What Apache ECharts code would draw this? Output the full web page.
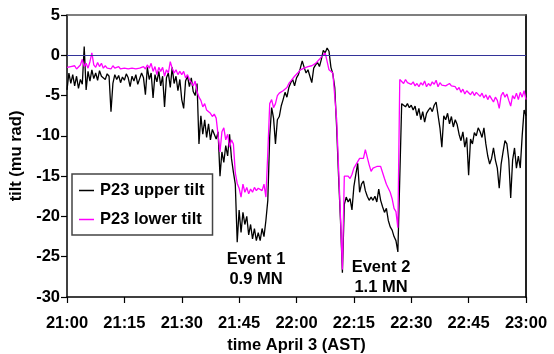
<!DOCTYPE html>
<html>
<head>
<meta charset="utf-8">
<script src="https://cdn.jsdelivr.net/npm/echarts@6/dist/echarts.min.js"></script>
<style>html,body{margin:0;padding:0;background:#fff;}#c{width:554px;height:354px;}</style>
</head>
<body>
<div id="c"></div>
<script>
// sample interval (minutes after 21:00)
const sampleStepMin = 0.5;
const xTickLabels = ['21:00','21:15','21:30','21:45','22:00','22:15','22:30','22:45','23:00'];
const seriesNames = ['P23 upper tilt', 'P23 lower tilt'];

const upperTilt = [
 -4.3,-2.2,-3.5,-2.4,-3.8,-2.6,-4.1,-3.0,-3.6,1.1,
 -4.3,-2.0,-3.2,-1.8,-2.9,-2.2,-3.1,-1.9,-2.6,-2.4,
 -3.0,-2.3,-2.6,-7.0,-3.5,-2.4,-3.0,-2.5,-3.4,-2.7,
 -3.1,-2.3,-2.8,-3.9,-2.6,-3.2,-2.4,-3.6,-2.9,-2.2,
 -2.8,-4.9,-1.5,-3.0,-2.2,-5.3,-2.4,-3.3,-2.0,-3.8,
 -2.6,-6.4,-2.8,-2.2,-4.0,-1.5,-3.5,-2.6,-4.4,-3.0,
 -5.5,-6.6,-3.2,-2.6,-3.9,-2.8,-4.5,-5.0,-3.5,-11.0,
 -7.5,-9.8,-8.0,-10.2,-8.5,-10.5,-9.2,-9.8,-10.4,-9.5,
 -15.0,-12.0,-13.3,-11.2,-12.5,-9.8,-12.8,-14.5,-16.0,-23.2,
 -19.2,-22.0,-19.5,-21.0,-20.0,-22.3,-21.0,-22.8,-21.5,-23.0,
 -22.0,-23.0,-21.5,-22.5,-20.5,-18.0,-10.0,-6.5,-7.8,-11.0,
 -8.0,-7.6,-6.3,-5.5,-4.6,-5.2,-4.0,-3.4,-3.0,-3.8,
 -2.8,-2.4,-1.6,-0.7,-1.5,-2.2,-1.8,-2.6,-3.4,-1.6,
 -1.2,-0.9,-1.4,-0.5,0.6,0.3,0.9,0.5,-1.5,-2.3,
 -4.0,-9.0,-15.0,-20.5,-27.0,-18.5,-17.6,-18.2,-17.8,-19.2,
 -16.3,-14.8,-13.4,-17.0,-16.0,-15.6,-16.8,-17.5,-18.0,-17.6,
 -18.0,-17.5,-18.2,-16.6,-18.0,-18.8,-19.5,-19.0,-20.5,-21.3,
 -21.7,-22.5,-23.0,-24.4,-24.6,-6.0,-6.2,-6.4,-6.0,-6.5,
 -6.2,-6.8,-6.3,-7.5,-6.6,-8.0,-7.0,-8.3,-7.2,-6.8,
 -6.5,-7.0,-6.2,-5.8,-6.0,-9.0,-11.4,-7.5,-8.0,-7.2,
 -8.5,-7.6,-8.9,-8.0,-8.6,-9.8,-10.6,-9.5,-11.4,-10.2,
 -14.9,-10.4,-11.0,-9.6,-10.0,-9.0,-9.5,-10.2,-9.0,-11.0,
 -12.5,-13.5,-12.8,-11.5,-13.0,-14.0,-16.5,-13.5,-12.0,-10.6,
 -11.0,-13.0,-17.7,-13.0,-11.5,-14.0,-12.5,-14.0,-10.0,-6.8,-7.5
];

const lowerTilt = [
 -1.5,-1.7,-1.4,-1.6,-1.3,-1.7,-1.5,-1.2,-0.5,-1.4,
 -1.0,-1.6,-0.8,0.3,-1.2,-1.5,-0.9,-1.4,-1.0,-1.6,
 -1.3,-1.6,-1.4,-1.7,-1.3,-1.6,-1.5,-1.4,-1.7,-1.5,
 -1.6,-1.4,-1.7,-1.5,-1.6,-1.4,-1.7,-1.5,-1.6,-1.8,
 -1.4,-1.7,-1.2,-1.6,-1.0,-2.0,-1.4,-2.4,-1.5,-2.0,
 -1.5,-2.6,-1.8,-2.2,-0.8,-1.6,-2.2,-1.8,-2.4,-2.0,
 -2.4,-2.0,-2.8,-2.4,-3.0,-3.4,-3.8,-3.2,-4.5,-5.2,
 -5.6,-6.4,-6.0,-6.8,-7.0,-7.2,-7.6,-7.3,-7.8,-7.6,
 -12.0,-9.5,-9.0,-10.5,-9.8,-11.4,-10.5,-11.0,-14.6,-15.9,
 -16.5,-17.6,-16.0,-17.0,-16.4,-17.2,-16.6,-17.0,-16.4,-16.8,
 -16.5,-16.3,-16.8,-16.0,-17.6,-12.0,-6.0,-5.5,-6.5,-6.0,
 -5.0,-4.7,-4.6,-4.4,-4.3,-4.0,-3.5,-3.2,-3.0,-2.6,
 -2.5,-2.1,-1.8,-2.0,-1.6,-1.8,-1.4,-1.6,-1.3,-1.5,
 -1.0,-0.8,-0.5,-0.2,0.0,0.3,0.1,-1.8,-2.0,-2.2,
 -2.3,-8.0,-14.0,-20.0,-26.6,-15.0,-15.2,-15.0,-15.3,-14.8,
 -14.0,-13.6,-13.4,-12.8,-12.6,-12.8,-11.7,-11.9,-13.6,-14.4,
 -14.0,-14.2,-13.8,-13.6,-13.8,-14.0,-15.3,-16.0,-16.2,-17.0,
 -17.8,-19.0,-19.4,-21.4,-3.0,-3.2,-3.5,-3.0,-3.4,-3.3,
 -3.6,-3.3,-3.8,-3.5,-3.9,-3.4,-3.7,-3.2,-3.9,-3.5,
 -3.8,-3.3,-3.6,-3.1,-3.9,-3.4,-3.7,-3.5,-3.8,-3.6,
 -3.5,-3.8,-3.6,-3.9,-4.3,-4.0,-4.6,-4.2,-4.8,-4.4,
 -4.3,-4.9,-4.5,-5.0,-4.6,-4.4,-5.1,-4.7,-5.3,-4.9,
 -5.5,-5.0,-5.4,-5.8,-5.2,-5.6,-6.6,-5.0,-4.6,-5.2,
 -4.8,-5.6,-6.3,-5.0,-5.4,-4.7,-5.5,-4.6,-5.2,-4.4,-5.5
];

const eventLabels = [
  {lines: ['Event 1', '0.9 MN'], x: 256, y: 259},
  {lines: ['Event 2', '1.1 MN'], x: 381, y: 267}
];

const FONT = "'Liberation Sans', Arial, Helvetica, sans-serif";
const toPairs = arr => arr.map((v, i) => [i * sampleStepMin, v]);

const chart = echarts.init(document.getElementById('c'), null, {renderer: 'canvas'});
const textStyle = {fontFamily: FONT, fontWeight: 'bold', fontSize: 16.5, color: '#000'};

chart.setOption({
  animation: false,
  backgroundColor: '#fff',
  grid: {left: 67, right: 28, top: 15, bottom: 57, containLabel: false, outerBoundsMode: 'none'},
  legend: {
    orient: 'vertical', left: 72, top: 174,
    data: seriesNames,
    icon: 'rect',
    itemWidth: 15, itemHeight: 1.5, itemGap: 12,
    padding: [8, 8, 7, 7],
    borderColor: '#444', borderWidth: 1.5,
    backgroundColor: '#fff',
    textStyle: Object.assign({}, textStyle, {padding: [0, 0, 0, 1]})
  },
  xAxis: [{
    type: 'value', min: 0, max: 120, interval: 15,
    axisLine: {show: true, onZero: false, lineStyle: {color: '#000', width: 1.5}},
    axisTick: {show: true, length: 6, lineStyle: {color: '#000', width: 1.2}},
    splitLine: {show: false},
    axisLabel: Object.assign({}, textStyle, {margin: 18, formatter: v => xTickLabels[Math.round(v / 15)]}),
    name: 'time April 3 (AST)', nameLocation: 'middle', nameGap: 39,
    nameTextStyle: textStyle
  }, {
    type: 'value', min: 0, max: 120, position: 'top',
    axisLine: {show: true, onZero: false, lineStyle: {color: '#555', width: 1.5}},
    axisTick: {show: false}, axisLabel: {show: false}, splitLine: {show: false}
  }],
  yAxis: [{
    type: 'value', min: -30, max: 5, interval: 5,
    axisLine: {show: true, onZero: false, lineStyle: {color: '#000', width: 1.5}},
    axisTick: {show: true, length: 6, lineStyle: {color: '#000', width: 1.2}},
    splitLine: {show: false},
    axisLabel: Object.assign({}, textStyle, {margin: 7}),
    name: 'tilt (mu rad)', nameLocation: 'middle', nameGap: 40, nameRotate: 90,
    nameTextStyle: textStyle
  }, {
    type: 'value', min: -30, max: 5, position: 'right',
    axisLine: {show: true, onZero: false, lineStyle: {color: '#222', width: 2}},
    axisTick: {show: false}, axisLabel: {show: false}, splitLine: {show: false}
  }],
  series: [{
    name: seriesNames[0], type: 'line', data: toPairs(upperTilt),
    symbol: 'none', lineStyle: {color: '#000', width: 1.3}, itemStyle: {color: '#000'},
    z: 3,
    markLine: {
      silent: true, symbol: 'none', label: {show: false},
      lineStyle: {color: '#333399', width: 1.2, type: 'solid'},
      data: [{yAxis: 0}]
    }
  }, {
    name: seriesNames[1], type: 'line', data: toPairs(lowerTilt),
    symbol: 'none', lineStyle: {color: '#ff00ff', width: 1.3}, itemStyle: {color: '#ff00ff'},
    z: 4
  }],
  graphic: eventLabels.map(e => ({
    type: 'text', x: e.x, y: e.y - 10, z: 10,
    style: {
      text: e.lines.join('\n'), fontFamily: FONT, fontWeight: 'bold', fontSize: 16.5,
      fill: '#000', align: 'center', verticalAlign: 'top', lineHeight: 20
    }
  }))
});
</script>
</body>
</html>
